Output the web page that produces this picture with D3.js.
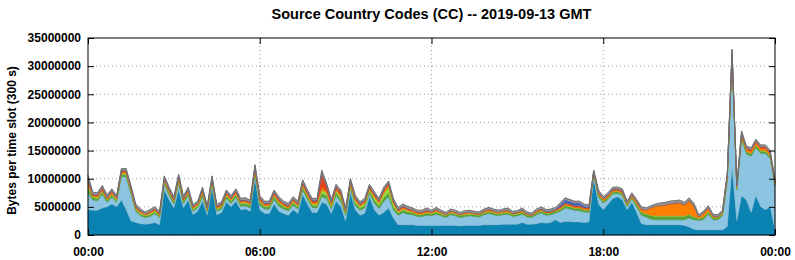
<!DOCTYPE html>
<html>
<head>
<meta charset="utf-8">
<script src="https://cdn.jsdelivr.net/npm/d3@7/dist/d3.min.js"></script>
<style>
  body { margin: 0; background: #fff; }
  svg text { font-family: "Liberation Sans", Arial, sans-serif; font-weight: bold; }
</style>
</head>
<body>
<svg width="795" height="260"></svg>
<script>
// Bytes per 300 s slot, in units of 100 kB, read every 10 minutes (00:00 .. 24:00)
const slotMinutes = d3.range(0, 1441, 10);

const ccDarkBlue = [
  45,44,44,48,50,55,50,62,45,25,22,20, 19,20,22,18,80,62,48,80,48,62,36,42,
  60,35,82,36,40,58,50,60,45,46,42,100, 45,38,38,55,42,38,35,45,38,72,55,40,
  40,58,55,38,60,50,25,75,45,35,38,68, 45,35,40,48,30,18,18,18,18,17,17,17,
  17,17,17,17,17,17,16,17,17,17,17,18, 18,18,18,19,19,19,19,22,19,19,20,22,
  21,22,27,22,24,24,23,23,22,23,100,55, 45,55,65,68,62,45,58,40,20,18,18,18,
  18,18,18,18,18,17,14,10,9,9,9,9, 9,9,15,120,25,70,62,40,70,50,45,50, 9
];
const ccLightBlue = [
  30,18,17,24,8,12,8,42,58,48,20,14, 12,13,16,13,10,8,7,12,8,8,6,6,
  8,6,8,6,6,7,6,7,6,6,6,8, 8,8,8,8,9,8,8,8,8,8,8,9,
  8,10,10,8,10,9,10,8,8,9,10,6, 12,12,20,20,15,17,22,19,18,16,16,18,
  17,20,17,14,19,17,15,16,17,16,15,18, 20,18,16,17,18,14,15,15,13,12,16,17,
  14,14,12,20,24,22,21,20,19,17,8,12, 12,8,8,6,8,5,6,10,15,14,10,9,
  9,9,9,9,9,10,16,17,17,18,28,18, 18,25,80,190,55,100,82,100,85,95,100,86, 78
];
const ccGreen = [
  8,4,4,4,4,4,3,4,4,4,4,3, 3,3,3,3,4,4,4,4,4,4,3,3,
  5,3,4,3,4,4,4,4,4,4,4,5, 5,4,4,5,5,4,4,4,4,5,5,4,
  4,6,5,4,5,5,4,4,4,4,4,4, 5,5,6,7,5,4,4,4,4,3,3,4,
  3,3,3,3,3,3,3,3,3,3,3,3, 3,3,3,3,3,3,3,3,3,3,3,3,
  3,3,3,3,4,4,3,4,3,3,2,4, 3,3,3,3,3,3,3,4,5,5,6,6,
  6,6,6,6,6,6,6,5,3,4,4,3, 3,3,4,5,3,4,4,4,4,4,4,4, 3
];
const ccLightGreen = [
  4,2,2,2,1,2,2,2,2,2,1,2, 1,2,2,1,2,2,1,2,1,2,2,2,
  2,1,2,2,1,2,2,2,2,2,2,2, 2,2,2,2,2,2,1,2,2,2,2,2,
  3,6,5,3,4,4,2,3,4,3,4,3, 5,4,8,10,6,2,2,2,1,1,1,1,
  1,2,1,1,1,1,1,1,1,1,1,1, 1,1,1,1,1,1,1,1,1,0,1,1,
  1,1,1,1,1,1,1,1,1,1,1,1, 1,1,1,1,1,1,1,1,1,1,1,1,
  1,1,1,1,1,1,1,1,1,1,1,1, 1,1,1,2,1,1,1,1,1,1,1,1, 1
];
const ccOrange = [
  5,2,2,3,2,3,2,2,3,3,2,2, 2,2,2,2,3,3,2,3,2,3,2,2,
  3,2,3,2,2,3,2,3,2,2,2,3, 3,2,2,3,3,2,2,3,2,3,3,3,
  3,5,3,3,3,3,2,3,3,2,3,3, 3,3,4,4,3,2,3,2,2,2,2,2,
  2,2,2,1,2,2,1,2,2,1,1,2, 2,2,2,2,2,1,1,2,1,1,2,2,
  1,1,1,2,2,2,2,2,2,2,1,2, 2,2,2,2,2,2,2,3,4,6,13,17,
  18,19,21,22,23,19,24,18,2,6,6,2, 1,2,4,5,2,4,3,4,4,4,4,3, 2
];
const ccRed = [
  6,2,2,3,2,2,2,2,2,2,2,2, 1,2,2,2,2,2,2,3,2,2,2,2,
  3,2,2,2,2,2,2,2,2,2,2,3, 3,2,2,3,3,2,2,2,2,4,3,3,
  3,24,10,3,4,5,2,3,3,2,2,2, 3,2,3,3,2,2,2,2,2,2,2,2,
  1,2,1,1,1,1,1,1,1,1,1,1, 2,1,1,1,2,1,1,1,1,1,1,1,
  1,1,1,2,2,2,2,2,2,2,1,2, 2,2,2,2,2,1,2,2,2,1,1,1,
  1,1,1,1,1,1,1,1,1,1,1,1, 1,1,3,4,1,3,3,3,3,3,3,3, 2
];
const ccBlue = [
  2,1,1,1,1,1,0,1,1,1,1,0, 0,0,0,0,1,1,1,1,1,1,0,0,
  1,0,1,0,1,1,1,1,1,1,1,1, 1,1,1,1,1,1,1,1,1,1,1,1,
  1,2,1,1,1,1,0,1,1,1,1,1, 1,1,1,1,1,1,1,1,0,0,0,1,
  0,0,0,0,0,0,0,0,0,0,0,0, 0,0,0,0,0,0,0,1,0,0,0,1,
  1,1,1,4,6,5,5,5,3,2,0,1, 0,1,1,0,1,0,0,0,0,0,0,0,
  0,0,0,0,0,0,0,0,0,0,0,0, 0,0,0,1,0,0,0,0,0,0,0,0, 0
];
const ccGray = [
  6,3,3,3,3,3,3,3,3,3,3,3, 3,3,3,3,3,3,3,3,3,3,3,3,
  3,3,3,3,3,3,3,3,3,3,3,3, 3,3,3,3,3,3,3,3,3,3,3,3,
  3,4,3,3,3,3,3,3,3,3,3,3, 3,3,3,3,3,3,3,3,3,3,3,3,
  3,3,3,3,3,3,3,3,3,3,3,3, 3,3,3,3,3,3,3,3,3,3,3,3,
  3,3,3,3,3,3,3,3,3,3,2,3, 3,3,3,3,3,3,3,3,3,3,3,3,
  4,4,4,4,4,4,4,4,3,3,3,3, 3,3,3,3,3,3,3,3,3,3,3,3, 3
];

const yTickValues = [0, 5000000, 10000000, 15000000, 20000000, 25000000, 30000000, 35000000];
const xTickValues = [0, 360, 720, 1080, 1440];
const xTickLabels = ['00:00', '06:00', '12:00', '18:00', '00:00'];

// stacking order, bottom first
const layers = [
  { key: 'c1', values: ccDarkBlue,   color: '#0a82b2' },
  { key: 'c2', values: ccLightBlue,  color: '#8cc5e2' },
  { key: 'c3', values: ccGreen,      color: '#56a23a' },
  { key: 'c4', values: ccLightGreen, color: '#96dc3c' },
  { key: 'c5', values: ccOrange,     color: '#ff7f00' },
  { key: 'c6', values: ccRed,        color: '#e2461a' },
  { key: 'c7', values: ccBlue,       color: '#4466bb' },
  { key: 'c8', values: ccGray,       color: '#9a9a9a' }
];

const table = slotMinutes.map((m, i) => {
  const row = { t: m };
  layers.forEach(l => { row[l.key] = l.values[i] * 100000; });
  return row;
});

const svg = d3.select('svg');
const margin = { left: 88, right: 775, top: 38, bottom: 235 };

const x = d3.scaleLinear().domain([0, 1440]).range([margin.left, margin.right]);
const y = d3.scaleLinear().domain([0, 35000000]).range([margin.bottom, margin.top]);

// title
svg.append('text')
  .attr('x', (margin.left + margin.right) / 2)
  .attr('y', 19)
  .attr('text-anchor', 'middle')
  .style('font-size', '14.5px')
  .text('Source Country Codes (CC) -- 2019-09-13 GMT');

// y axis label
svg.append('text')
  .attr('transform', `translate(16,${(margin.top + margin.bottom) / 2 + 4}) rotate(-90)`)
  .attr('text-anchor', 'middle')
  .style('font-size', '12px')
  .text('Bytes per time slot (300 s)');

// dotted grid
const gridG = svg.append('g');
gridG.selectAll('.hgrid').data(yTickValues.slice(1, -1)).enter().append('line')
  .attr('x1', margin.left).attr('x2', margin.right)
  .attr('y1', d => y(d)).attr('y2', d => y(d))
  .attr('stroke', '#a0a0a0').attr('stroke-width', 1)
  .attr('stroke-dasharray', '1,3');
gridG.selectAll('.vgrid').data(xTickValues.slice(1, -1)).enter().append('line')
  .attr('y1', margin.top).attr('y2', margin.bottom)
  .attr('x1', d => x(d)).attr('x2', d => x(d))
  .attr('stroke', '#a0a0a0').attr('stroke-width', 1)
  .attr('stroke-dasharray', '1,3');

// stacked areas
const stacked = d3.stack().keys(layers.map(l => l.key))(table);
const area = d3.area()
  .x(d => x(d.data.t))
  .y0(d => y(d[0]))
  .y1(d => y(d[1]));

svg.append('g').selectAll('path').data(stacked).enter().append('path')
  .attr('d', area)
  .attr('fill', (d, i) => layers[i].color)
  .attr('stroke', (d, i) => d3.color(layers[i].color).darker(0.3))
  .attr('stroke-width', 0.5);

// top outline
svg.append('path')
  .datum(stacked[stacked.length - 1])
  .attr('fill', 'none')
  .attr('stroke', '#6a6a6a')
  .attr('stroke-width', 0.9)
  .attr('d', d3.line().x(d => x(d.data.t)).y(d => y(d[1])));

// axes, ticks pointing inwards
svg.append('g')
  .attr('transform', `translate(${margin.left},0)`)
  .call(d3.axisLeft(y).tickValues(yTickValues).tickSize(-6).tickPadding(7).tickFormat(d3.format('d')));
svg.append('g')
  .attr('transform', `translate(${margin.right},0)`)
  .call(d3.axisRight(y).tickValues(yTickValues).tickSize(-6).tickFormat(''));
svg.append('g')
  .attr('transform', `translate(0,${margin.bottom})`)
  .call(d3.axisBottom(x).tickValues(xTickValues).tickSize(-6).tickPadding(12)
    .tickFormat((d, i) => xTickLabels[i]));
svg.append('g')
  .attr('transform', `translate(0,${margin.top})`)
  .call(d3.axisTop(x).tickValues(xTickValues).tickSize(-6).tickFormat(''));

svg.selectAll('.domain').remove();
svg.selectAll('.tick line').attr('stroke', '#000');
svg.selectAll('.tick text')
  .style('font-size', '12px')
  .style('font-family', '"Liberation Sans", Arial, sans-serif')
  .style('font-weight', 'bold')
  .attr('fill', '#000');

// border
svg.append('rect')
  .attr('x', margin.left).attr('y', margin.top)
  .attr('width', margin.right - margin.left)
  .attr('height', margin.bottom - margin.top)
  .attr('fill', 'none')
  .attr('stroke', '#000')
  .attr('stroke-width', 1);
</script>
</body>
</html>
